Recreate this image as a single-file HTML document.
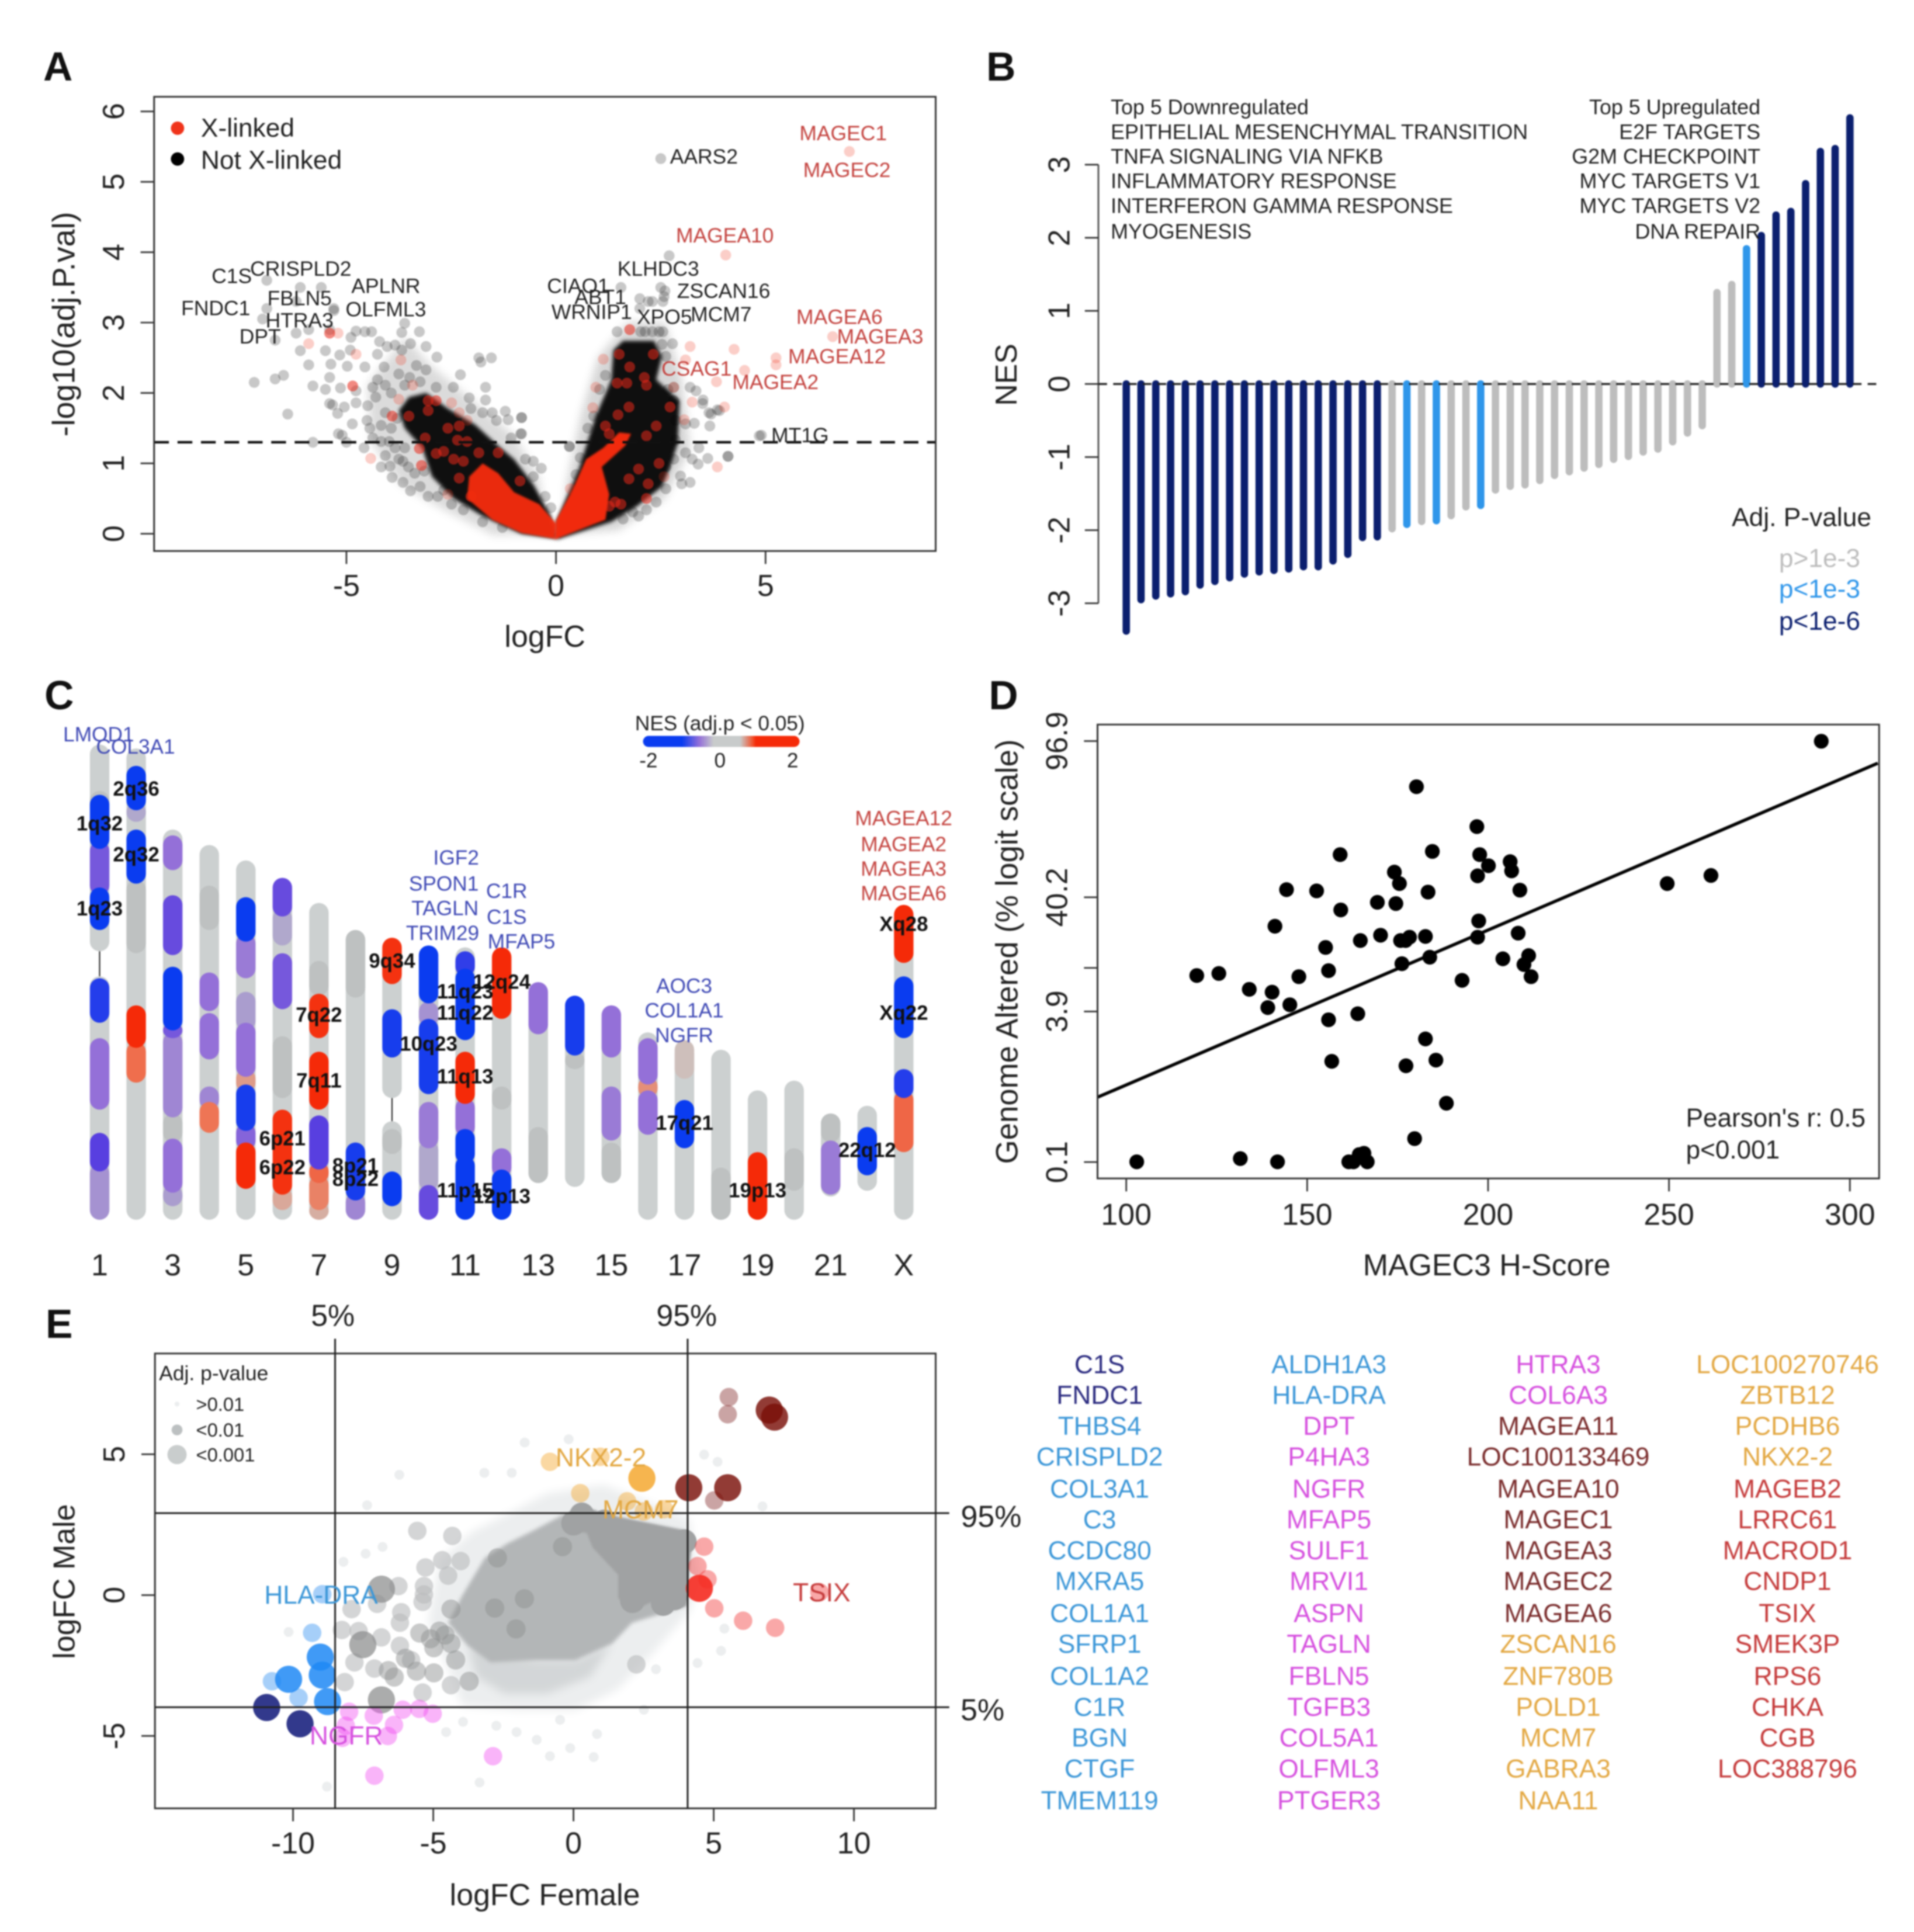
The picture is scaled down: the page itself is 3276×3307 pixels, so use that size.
<!DOCTYPE html>
<html lang="en">
<head>
<meta charset="utf-8">
<title>Multi-panel expression analysis figure</title>
<style>
html,body{margin:0;padding:0;background:#fff;width:3276px;height:3307px;overflow:hidden}
#figure{display:block;width:3276px;height:3307px;filter:blur(1.4px)}
text{font-family:"Liberation Sans",Arial,sans-serif;dominant-baseline:central;fill:#222}
.m{text-anchor:middle}.e{text-anchor:end}
.ax{font-size:24.6px}.gA{font-size:16.8px}.red{fill:#c4433f}
.b17{font-size:17px}.b21{font-size:21px}
.band{font-size:16.5px;font-weight:bold;text-anchor:middle;fill:#111}
.gC{font-size:16.7px;text-anchor:middle;fill:#3f49b5}.rC{font-size:16.7px;text-anchor:middle;fill:#c4433f}
.letter{font-size:33px;font-weight:bold;text-anchor:middle;fill:#111}
.gl{font-size:21px;text-anchor:middle}
.nv{fill:#2b2b80}.bl{fill:#3c97d8}.mg{fill:#d650df}.mr{fill:#7a2c2c}.or{fill:#e3a843}.rd{fill:#c53b3b}
</style>
</head>
<body>
<svg id="figure" xmlns="http://www.w3.org/2000/svg" viewBox="0 0 1552.6 1567.3">
<defs>
<filter id="soft05" x="-20%" y="-20%" width="140%" height="140%"><feGaussianBlur stdDeviation="0.8"/></filter>
<filter id="soft1" x="-20%" y="-20%" width="140%" height="140%"><feGaussianBlur stdDeviation="1.5"/></filter>
<filter id="soft3" x="-20%" y="-20%" width="140%" height="140%"><feGaussianBlur stdDeviation="3.5"/></filter>
<linearGradient id="nesGradient"><stop offset="0" stop-color="#0a3cf0"/><stop offset=".25" stop-color="#0a3cf0"/><stop offset=".36" stop-color="#9470d8"/><stop offset=".45" stop-color="#c8cbcb"/><stop offset=".62" stop-color="#c8cbcb"/><stop offset=".7" stop-color="#f0532e"/><stop offset=".72" stop-color="#f52a08"/><stop offset="1" stop-color="#f52a08"/></linearGradient>
</defs>
<rect x="0" y="0" width="1552.6" height="1567.3" fill="#fff"/>
<g id="panelA"></g>
<g id="panelB"></g>
<g id="panelC"></g>
<g id="panelD"></g>
<g id="panelE"></g>

<text class="letter" x="47" y="54">A</text>
<text class="letter" x="812" y="54">B</text>
<text class="letter" x="48" y="564">C</text>
<text class="letter" x="814" y="564">D</text>
<text class="letter" x="48" y="1074">E</text>

<!-- Panel A text -->
<g>
<text class="ax m" x="442" y="516">logFC</text>
<text class="ax m" transform="rotate(-90 52 263)" x="52" y="263" style="font-size:25.5px">-log10(adj.P.val)</text>
<circle cx="144" cy="104" r="5.4" fill="#f0331a"/>
<circle cx="144" cy="129" r="5.4" fill="#000"/>
<text x="163" y="104" style="font-size:21px">X-linked</text>
<text x="163" y="130" style="font-size:21px">Not X-linked</text>
<text class="gA red m" x="684" y="108">MAGEC1</text>
<text class="gA red m" x="687" y="138">MAGEC2</text>
<text class="gA m" x="571" y="127">AARS2</text>
<text class="gA red m" x="588" y="191">MAGEA10</text>
<text class="gA m" x="534" y="218">KLHDC3</text>
<text class="gA m" x="587" y="236">ZSCAN16</text>
<text class="gA m" x="469" y="232">CIAO1</text>
<text class="gA m" x="487" y="241">ABT1</text>
<text class="gA m" x="480" y="253">WRNIP1</text>
<text class="gA m" x="539" y="257">XPO5</text>
<text class="gA m" x="585" y="255">MCM7</text>
<text class="gA red m" x="681" y="257">MAGEA6</text>
<text class="gA red m" x="714" y="273">MAGEA3</text>
<text class="gA red m" x="679" y="289">MAGEA12</text>
<text class="gA red m" x="565" y="299">CSAG1</text>
<text class="gA red m" x="629" y="310">MAGEA2</text>
<text class="gA m" x="649" y="353">MT1G</text>
<text class="gA m" x="188" y="224">C1S</text>
<text class="gA m" x="244" y="218">CRISPLD2</text>
<text class="gA m" x="313" y="232">APLNR</text>
<text class="gA m" x="243" y="242">FBLN5</text>
<text class="gA m" x="175" y="250">FNDC1</text>
<text class="gA m" x="313" y="251">OLFML3</text>
<text class="gA m" x="243" y="260">HTRA3</text>
<text class="gA m" x="211" y="273">DPT</text>
</g>

<!-- Panel B text -->
<g>
<text class="ax m" transform="rotate(-90 816 304)" x="816" y="304">NES</text>
<text class="b17" x="901" y="87">Top 5 Downregulated</text>
<text class="b17" x="901" y="107">EPITHELIAL MESENCHYMAL TRANSITION</text>
<text class="b17" x="901" y="127">TNFA SIGNALING VIA NFKB</text>
<text class="b17" x="901" y="147">INFLAMMATORY RESPONSE</text>
<text class="b17" x="901" y="167">INTERFERON GAMMA RESPONSE</text>
<text class="b17" x="901" y="188">MYOGENESIS</text>
<text class="b17 e" x="1428" y="87">Top 5 Upregulated</text>
<text class="b17 e" x="1428" y="107">E2F TARGETS</text>
<text class="b17 e" x="1428" y="127">G2M CHECKPOINT</text>
<text class="b17 e" x="1428" y="147">MYC TARGETS V1</text>
<text class="b17 e" x="1428" y="167">MYC TARGETS V2</text>
<text class="b17 e" x="1428" y="188">DNA REPAIR</text>
<text class="b21 e" x="1518" y="420">Adj. P-value</text>
<text class="b21 e" x="1509" y="453" style="fill:#bdbdbd">p&gt;1e-3</text>
<text class="b21 e" x="1509" y="478" style="fill:#2f96ea">p&lt;1e-3</text>
<text class="b21 e" x="1509" y="504" style="fill:#0b1f6f">p&lt;1e-6</text>
</g>

<!-- Panel C text -->
<g id="panelCText">
<text class="gC" x="80" y="596">LMOD1</text>
<text class="gC" x="110" y="606">COL3A1</text>
<text class="gC" x="370" y="696">IGF2</text>
<text class="gC" x="360" y="717">SPON1</text>
<text class="gC" x="361" y="737">TAGLN</text>
<text class="gC" x="359" y="757">TRIM29</text>
<text class="gC" x="411" y="723">C1R</text>
<text class="gC" x="411" y="744">C1S</text>
<text class="gC" x="423" y="764">MFAP5</text>
<text class="gC" x="555" y="800">AOC3</text>
<text class="gC" x="555" y="820">COL1A1</text>
<text class="gC" x="555" y="840">NGFR</text>
<text class="rC" x="733" y="664">MAGEA12</text>
<text class="rC" x="733" y="685">MAGEA2</text>
<text class="rC" x="733" y="705">MAGEA3</text>
<text class="rC" x="733" y="725">MAGEA6</text>
<text class="gC" x="584" y="587" style="fill:#222">NES (adj.p &lt; 0.05)</text>
<rect x="521.6" y="597" width="127" height="9" rx="4.5" fill="url(#nesGradient)"/>
<text class="gC" x="526" y="617" style="fill:#222">-2</text>
<text class="gC" x="584" y="617" style="fill:#222">0</text>
<text class="gC" x="643" y="617" style="fill:#222">2</text>
</g>

<!-- Panel D text -->
<g>
<text class="ax m" x="1206" y="1026">MAGEC3 H-Score</text>
<text class="m" transform="rotate(-90 817 772)" x="817" y="772" style="font-size:25px">Genome Altered (% logit scale)</text>
<text x="1367.6" y="907" style="font-size:20.9px">Pearson's r: 0.5</text>
<text x="1367.6" y="933" style="font-size:20.9px">p&lt;0.001</text>
</g>

<!-- Panel E text and gene lists -->
<g id="panelEText">
<text class="ax m" x="442" y="1537">logFC Female</text>
<text class="ax m" transform="rotate(-90 52 1283)" x="52" y="1283">logFC Male</text>
<text class="ax m" x="270" y="1067">5%</text>
<text class="ax m" x="557" y="1067">95%</text>
<text class="ax m" x="804" y="1230">95%</text>
<text class="ax m" x="797" y="1387">5%</text>
<text x="129" y="1114" style="font-size:16.8px">Adj. p-value</text>
<text x="159" y="1139" style="font-size:15.5px">&gt;0.01</text>
<text x="159" y="1160" style="font-size:15.5px">&lt;0.01</text>
<text x="159" y="1180" style="font-size:15.5px">&lt;0.001</text>
<circle cx="143.6" cy="1139" r="2" fill="#eceeef"/>
<circle cx="143.6" cy="1160" r="4.4" fill="#bcc0c1"/>
<circle cx="143.6" cy="1180" r="7.8" fill="#c9cdcd"/>
</g>
<g id="geneLists">
<text class="gl nv" x="892" y="1107">C1S</text>
<text class="gl nv" x="892" y="1132">FNDC1</text>
<text class="gl bl" x="892" y="1157">THBS4</text>
<text class="gl bl" x="892" y="1182">CRISPLD2</text>
<text class="gl bl" x="892" y="1208">COL3A1</text>
<text class="gl bl" x="892" y="1233">C3</text>
<text class="gl bl" x="892" y="1258">CCDC80</text>
<text class="gl bl" x="892" y="1283">MXRA5</text>
<text class="gl bl" x="892" y="1309">COL1A1</text>
<text class="gl bl" x="892" y="1334">SFRP1</text>
<text class="gl bl" x="892" y="1360">COL1A2</text>
<text class="gl bl" x="892" y="1385">C1R</text>
<text class="gl bl" x="892" y="1410">BGN</text>
<text class="gl bl" x="892" y="1435">CTGF</text>
<text class="gl bl" x="892" y="1461">TMEM119</text>
<text class="gl bl" x="1078" y="1107">ALDH1A3</text>
<text class="gl bl" x="1078" y="1132">HLA-DRA</text>
<text class="gl mg" x="1078" y="1157">DPT</text>
<text class="gl mg" x="1078" y="1182">P4HA3</text>
<text class="gl mg" x="1078" y="1208">NGFR</text>
<text class="gl mg" x="1078" y="1233">MFAP5</text>
<text class="gl mg" x="1078" y="1258">SULF1</text>
<text class="gl mg" x="1078" y="1283">MRVI1</text>
<text class="gl mg" x="1078" y="1309">ASPN</text>
<text class="gl mg" x="1078" y="1334">TAGLN</text>
<text class="gl mg" x="1078" y="1360">FBLN5</text>
<text class="gl mg" x="1078" y="1385">TGFB3</text>
<text class="gl mg" x="1078" y="1410">COL5A1</text>
<text class="gl mg" x="1078" y="1435">OLFML3</text>
<text class="gl mg" x="1078" y="1461">PTGER3</text>
<text class="gl mg" x="1264" y="1107">HTRA3</text>
<text class="gl mg" x="1264" y="1132">COL6A3</text>
<text class="gl mr" x="1264" y="1157">MAGEA11</text>
<text class="gl mr" x="1264" y="1182">LOC100133469</text>
<text class="gl mr" x="1264" y="1208">MAGEA10</text>
<text class="gl mr" x="1264" y="1233">MAGEC1</text>
<text class="gl mr" x="1264" y="1258">MAGEA3</text>
<text class="gl mr" x="1264" y="1283">MAGEC2</text>
<text class="gl mr" x="1264" y="1309">MAGEA6</text>
<text class="gl or" x="1264" y="1334">ZSCAN16</text>
<text class="gl or" x="1264" y="1360">ZNF780B</text>
<text class="gl or" x="1264" y="1385">POLD1</text>
<text class="gl or" x="1264" y="1410">MCM7</text>
<text class="gl or" x="1264" y="1435">GABRA3</text>
<text class="gl or" x="1264" y="1461">NAA11</text>
<text class="gl or" x="1450" y="1107">LOC100270746</text>
<text class="gl or" x="1450" y="1132">ZBTB12</text>
<text class="gl or" x="1450" y="1157">PCDHB6</text>
<text class="gl or" x="1450" y="1182">NKX2-2</text>
<text class="gl rd" x="1450" y="1208">MAGEB2</text>
<text class="gl rd" x="1450" y="1233">LRRC61</text>
<text class="gl rd" x="1450" y="1258">MACROD1</text>
<text class="gl rd" x="1450" y="1283">CNDP1</text>
<text class="gl rd" x="1450" y="1309">TSIX</text>
<text class="gl rd" x="1450" y="1334">SMEK3P</text>
<text class="gl rd" x="1450" y="1360">RPS6</text>
<text class="gl rd" x="1450" y="1385">CHKA</text>
<text class="gl rd" x="1450" y="1410">CGB</text>
<text class="gl rd" x="1450" y="1435">LOC388796</text>
</g>
</svg>

<script>
/* ===== Panel A data: [logFC, -log10(adj.P)] ===== */
const volcanoOtherLeft=[[-7.2,2.15],[-6.9,3.6],[-6.9,3.2],[-7,3.05],[-6.7,2.75],[-6.5,2.25],[-6.7,2.2],[-6.4,1.7],[-6.1,3.5],[-6.2,3.3],[-5.6,3.5],[-5.3,3.2],[-5.4,2.9],[-5.9,2.9],[-6.2,2.85],[-6.1,2.6],[-5.9,2.4],[-5.5,2.6],[-5.8,2.1],[-5.5,2.05],[-5.4,1.85],[-5.8,1.3],[-5.1,1.4],[-5,1.3],
[-3.61,2.99],[-3.26,2.87],[-3.68,2.86],[-4.77,2.88],[-4.56,2.87],[-4.4,2.87],[-5.3,3.17],[-4.89,2.79],[-4.21,2.73],[-4.03,2.66],[-3.84,2.68],[-3.47,2.7],[-3.1,2.66],[-2.84,2.51],[-4.91,2.61],[-5.16,2.54],[-4.26,2.55],[-3.68,2.61],[-5.37,2.41],[-4.98,2.38],[-4.56,2.37],[-4.1,2.37],[-3.33,2.39],[-3.1,2.33],[-5.4,2.22],[-2.28,2.26],[-4.26,2.19],[-3.49,2.22],[-4.37,2.08],[-5.14,2.07],[-4.77,2.03],[-1.68,2.08],[-2.86,2.08],[-2.45,2.08],[-2.07,1.93],[-1.68,1.9],[-4.49,1.82],[-5.05,1.8],[-5.33,1.83],[-5.21,1.71],[-1.84,2.5],[-1.54,2.5],[-1.79,2.44],[-4.51,1.61],[-4.86,1.56],[-4.17,1.54],[-3.79,1.64],[-1.52,1.72],[-1.21,1.74],[-1.14,1.62],[-.82,1.65],[-5.19,1.42],[-4.37,1.36],[-3.98,1.31],[-.84,1.42],[-1.07,1.36],[-4.58,1.22],[-3.61,1.22],[-4.07,1.11],[.32,1.24],[-4.17,.95],[-3.96,.96],[-3.75,1.06],[-3.91,.8],[-3.65,.73],[-3.47,.61],[-3.24,.67],[-3.05,.53],[-2.82,.53],[-.26,.53],[-.35,.93],[-.54,1.03],[-.73,1.06],[-.12,.37],[-.54,.81],[-2.03,1.78],[-1.75,1.72],[-1.42,1.61],[-4.07,1.72],[-4.44,1.5],[-3.93,1.5],[-3.84,1.22],[-3.65,1.03],[-3.37,.86],[-3.52,.95],[-3.14,.89],[-4.17,1.31],[-2.68,.62],[-2.49,.42],[-2.21,.34],[-1.75,.17],[-1.28,.09],[-3.93,2.0],[-3.61,2.11],[-3.24,2.16],[-4.07,2.11],[-3.75,2.27],[-4.3,1.94],[-4.77,1.86]];
const volcanoOtherRight=[[2.5,5.33],[2.7,3.95],[1.55,3.5],[2.5,3.5],[2.6,3.45],[2.55,3.3],[2,3.2],[2.2,3.3],[3.5,1.85],[3.7,1.7],[3.9,1.75],[4.9,1.4],[4.1,1.1],
[1.46,2.87],[2.02,2.87],[2.13,2.87],[2.3,2.87],[2.46,2.87],[2.55,2.87],[2,3.34],[2.3,3.3],[2.58,3.37],[2.53,2.69],[2.78,2.7],[2.62,2.52],[3.2,2.08],[3.34,2.03],[3.51,1.9],[3.65,1.72],[3.85,1.76],[2.81,2.08],[3.3,1.57],[3.67,1.53],[3.09,1.56],[4.85,1.39],[-.82,1.65],[-.82,1.42],[.76,1.5],[.32,1.24],[3.09,1.15],[3.41,1.22],[3.62,1.07],[4.11,1.1],[3.39,.99],[3.25,1.06],[2.97,.82],[3,.71],[3.2,.73],[2.62,.64],[1.97,.25],[1.6,.21],[2.62,.95],[2.81,1.06],[2.85,1.33],[2.85,1.61],[2.81,1.89],[2.67,2.05],[1.18,2.25],[1.04,2.05],[.9,1.67],[.58,1.08],[.48,.84],[2.39,.45],[2.16,.34],[1.83,.31]];
const volcanoXLinkedPale=[[7,5.43],[4.05,3.96],[6.6,2.8],[5.25,2.5],[5.25,2.4],[4.5,2.32],[4.25,2.62],[3.2,2.66],[3.09,2.47],[3.83,2.16],[4.02,1.8],[3.85,.95],[2.58,.81],[-5.2,2.85],[-5.9,2.7],[-4.77,2.55],[-3.7,2.47],[-3.42,2.11],[-3.75,1.91],[-2.49,1.86],[-2.31,1.72],[-2.12,1.61],[-4.42,1.07],[-2.58,.56],[1.13,2.48],[.95,2.08],[.88,1.79],[3.25,1.87],[3.06,1.62],[.34,.64],[2.81,2.08]];
const volcanoXLinkedCore=[[-3.91,1.67],[-3.51,1.67],[-3.05,1.89],[-2.86,1.89],[-3.05,1.75],[-2.58,1.5],[-2.31,1.53],[-3.12,1.36],[-3.26,1.21],[-2.86,1.14],[-2.68,1.17],[-2.44,1.06],[-2.21,1.03],[-2.35,1.33],[-2.12,1.31],[-1.84,1.15],[-1.38,1.15],[-3.21,.97],[-2.31,.79],[-2.03,.53],[-.86,.75],[-4.85,2.1],[-5.4,2.85],
[1.51,2.55],[1.76,2.37],[2.32,2.55],[1.76,2.9],[1.46,2.14],[1.69,2.14],[2.11,2.22],[2.16,2.11],[1.48,1.69],[1.74,1.8],[1.18,1.53],[1.27,1.42],[2.72,1.8],[2.39,1.53],[2.16,1.39],[2.46,1],[1.97,.92],[2.2,.71],[1.74,.78],[2.16,.5],[1.41,.45],[1.27,.39],[1.55,.42]];
const densityHaloLeft=[[-.2,0],[-1.5,-.02],[-2.7,.35],[-3.7,.7],[-4.4,1.3],[-4.5,2.1],[-3.6,2.8],[-3,2.4],[-2,1.9],[-1,1.4],[-.4,.8]];
const densityHaloRight=[[.2,0],[1.5,.05],[2.6,.5],[3.2,1.2],[3.0,2.2],[2.6,3],[1.7,3],[1,2.5],[.6,1.7],[.25,.7]];
const densityCoreLeft=[[-3.51,1.94],[-3.1,2],[-2.58,1.78],[-1.93,1.55],[-1.38,1.25],[-1,1.06],[-.54,.7],[-.12,.25],[.01,-.07],[-.82,0],[-1.75,.25],[-2.44,.5],[-2.96,.81],[-3.19,1.22],[-3.61,1.5],[-3.75,1.75]];
const densityCoreRight=[[1.6,2.74],[2.34,2.74],[2.53,2.52],[2.39,2.19],[2.95,1.89],[2.9,1.28],[2.72,.95],[2.53,.67],[1.93,.39],[1.32,.17],[.02,-.08],[0,.17],[.53,.89],[.95,1.67],[1.32,2.19],[1.37,2.61]];
const densityRedLeft=[[-.03,-.07],[-.82,.01],[-1.52,.2],[-2.12,.5],[-2.07,.81],[-1.75,1],[-1.38,.86],[-1,.59],[-.4,.42],[.01,.14]];
const densityRedRight=[[-.03,-.08],[1.18,.2],[1.27,.56],[1.09,.95],[1.65,1.25],[1.79,1.42],[1.51,1.44],[1.13,1.22],[.72,1.06],[.39,.62],[0,.19]];
const aXTicks=[-5,0,5];
const aYTicks=[0,1,2,3,4,5,6];
const aSignificance=1.3;

/* ===== Panel B data: NES per hallmark gene set, and significance class ===== */
const nesValues=[-3.38,-2.95,-2.9,-2.87,-2.84,-2.75,-2.7,-2.65,-2.6,-2.57,-2.55,-2.53,-2.5,-2.5,-2.42,-2.33,-2.1,-2.09,-1.98,-1.92,-1.88,-1.87,-1.8,-1.68,-1.66,-1.45,-1.4,-1.38,-1.32,-1.25,-1.2,-1.15,-1.1,-1.03,-.99,-.93,-.89,-.79,-.67,-.57,1.25,1.36,1.85,2.03,2.31,2.36,2.74,3.18,3.22,3.64];
const nesClasses=[2,2,2,2,2,2,2,2,2,2,2,2,2,2,2,2,2,2,0,1,0,1,0,0,1,0,0,0,0,0,0,0,0,0,0,0,0,0,0,0,0,0,1,2,2,2,2,2,2,2];
const bYTicks=[-3,-2,-1,0,1,2,3];

/* ===== Panel C data: chromosome arms and NES-coloured bands, position in Mb from the baseline ===== */
const chromosomeArms=[[[0,126],[139,246]],[[0,244]],[[0,202]],[[0,194]],[[0,186]],[[0,175]],[[0,164]],[[0,150]],[[0,51],[63,144]],[[0,140]],[[0,141]],[[0,139]],[[19,121]],[[17,114]],[[19,109]],[[0,97]],[[0,91]],[[0,88]],[[0,67]],[[0,72]],[[12,55]],[[15,59]],[[0,161]]];
const neutralBands=[[2,138,176],[3,40,55],[4,150,173],[6,63,95],[7,116,134],[8,115,150],[9,34,47],[12,57,69],[13,19,48],[14,78,87],[15,19,40],[18,0,27],[20,15,37],[21,40,55],[1,208,222],[3,8,16]];
const nesBands=[[1,194,218,-2],[1,170,194,-1.2],[1,152,170,-2],[1,104,123,-1.8],[1,59,92,-1],[1,27,43,-1.4],[1,0,27,-.7],
[2,214,233,-2],[2,176,200,-2],[2,208,214,-.5],[2,91,109,2],[2,73,90,1.1],
[3,183,197,-1],[3,139,166,-1.3],[3,100,129,-2],[3,96,100,-1.2],[3,55,95,-.8],[3,16,40,-1],[3,9,16,-.6],
[4,110,126,-1],[4,85,105,-1],[4,59,67,-.8],[4,47,59,1],
[5,146,165,-2],[5,127,146,-.9],[5,100,116,-.6],[5,76,100,-1],[5,68,76,.7],[5,48,68,-1.9],[5,38,48,-1.1],[5,18,38,2],
[6,159,175,-1.3],[6,144,159,-.5],[6,111,136,-1.2],[6,15,55,1.9],[6,7,15,.6],
[7,96,115,1.9],[7,59,85,2],[7,28,52,-1.4],[7,21,28,1.2],[7,7,21,.9],[7,0,7,.5],
[8,12,38,-1.9],[8,0,12,-.8],
[9,124,144,1.9],[9,86,107,-1.9],[9,9,23,-2],
[10,114,140,-2],[10,102,111,-.7],[10,67,102,-1.9],[10,39,59,-.9],[10,17,39,-.5],[10,0,16,-1.3],
[11,128,137,-1.7],[11,95,128,-2],[11,62,85,2],[11,45,61,-1],[11,31,45,-2],[11,0,31,-2],
[12,106,139,2],[12,24,35,-1],[12,0,24,-2],
[13,98,121,-1],[14,87,114,-1.9],[15,86,109,-1],[15,43,67,-.9],
[16,72,92,-1],[16,65,72,.8],[16,46,65,-1],
[17,75,91,.2],[17,39,60,-2],[19,0,33,2],[21,15,39,-.9],[22,25,46,-2],
[23,135,161,2],[23,96,124,-2],[23,65,76,-1.8],[23,37,65,1.2]];
const bandLabels=["2q36","1q32","2q32","1q23","9q34","12q24","11q23","7q22","11q22","Xq22","Xq28","10q23","7q11","11q13","17q21","6p21","6p22","22q12","8p21","8p22","11p15","12p13","19p13"];
const bandLabelChromosome=[2,1,2,1,9,12,11,7,11,23,23,10,7,11,17,6,6,22,8,8,11,12,19];
const bandLabelPosition=[223,205,189,161,134,123,118,106,107,107,153,91,72,74,50,42,27,36,28,21,15,12,15];
const chromosomeTickLabels=["1","3","5","7","9","11","13","15","17","19","21","X"];
const chromosomeTickIndex=[1,3,5,7,9,11,13,15,17,19,21,23];

/* ===== Panel D data ===== */
const hScore=[102.9,131.5,141.8,161.5,162.8,164.4,165.7,166.6,179.7,188.5,156.8,177.3,185.6,182.7,155.9,164,139.1,145.2,140.3,134,119.5,125.6,147.7,155.9,155.1,141.1,159.3,144.3,152.6,159.1,164.7,170.3,169.4,174.5,174.1,175.5,176.2,175.8,177.2,178.3,182.7,183.4,184.6,183.9,192.8,196.9,197.7,200.1,197.1,197.4,197.1,204.1,206.1,206.5,208.8,208.3,211.2,209.9,211.9,249.5,261.6,292.1,180.2];
const genomeAlteredLogit=[-6.9,-6.82,-6.9,-6.9,-6.9,-6.72,-6.69,-6.9,-6.33,-5.46,-4.43,-4.54,-4.4,-3.88,-3.41,-3.26,-3.11,-3.04,-2.73,-2.66,-2.32,-2.27,-2.35,-2.2,-1.63,-1.11,-.71,-.21,-.24,.65,-1.46,-1.33,-.52,-.55,.22,-.06,-2.03,-1.46,-1.46,-1.38,-1.36,-.27,.73,-1.87,-2.44,1.34,.65,.38,.13,-.98,-1.38,-1.91,.48,.25,-.22,-1.28,-1.83,-2.05,-2.35,-.06,.14,3.44,2.32];
const dXTicks=[100,150,200,250,300];
const dYTicksPercent=[0.1,3.9,10.6,40.2,96.9];
const dYTickLabels=["0.1","3.9","","40.2","96.9"];
const fitSlope=.03808;
const fitAt100=-5.01;

/* ===== Panel E data: [logFC female, logFC male] ===== */
const cloudHalo=[[-5.18,-.98],[-4.78,1.24],[-3.57,2.28],[-2.35,2.87],[-.94,3.61],[1.08,3.91],[2.6,3.32],[4.11,2.72],[4.51,.5],[4.11,-.61],[2.8,-2.09],[1.58,-3.35],[.07,-4.09],[-1.95,-4.09],[-3.97,-3.94],[-4.37,-2.83]];
const cloudLowerBand=[[-3.77,-1.8],[-1.34,-2.31],[.07,-2.31],[1.38,-1.72],[.58,-2.91],[-.94,-3.5],[-2.45,-3.5],[-3.46,-2.91]];
const cloudCore=[[-4.47,-.98],[-3.97,-.02],[-3.16,1.32],[-2.35,1.84],[-1.45,2.28],[-.33,2.87],[1.08,2.87],[4.01,2.28],[4.01,-.39],[2.09,-.98],[1.38,-1.72],[.07,-2.31],[-1.34,-2.31],[-2.96,-2.39],[-3.77,-1.8]];
const cloudDense=[[-.33,2.72],[.07,3.17],[.78,3.02],[1.08,2.87],[4.01,2.28],[4.21,1.69],[4.01,-.39],[3.4,-.54],[2.8,-.24],[1.99,-.61],[1.59,-.09],[1.59,.72],[.68,1.69],[.47,2.21],[-.33,2.28]];
const faintPoints=[[-.17,5.53],[-1.74,5.42],[-3.18,4.34],[-2.2,4.34],[-6.21,4.27],[-7.36,3.19],[-7.41,1.47],[-8.2,1.18],[-6.81,1.71],[-10.16,-1.31],[4.66,4.99],[5.14,4.73],[6.74,3.15],[5.38,-1.19],[5.26,-1.98],[2.94,-2.63],[.84,-4.93],[-.84,-5.72],[.72,-5.75],[-3.35,-6.65],[-8.79,-6.8],[-.12,-5.43],[-1.31,-5.14],[-3.94,-4.5],[-4.54,-4.86],[-2.03,-4.86],[-2.75,-4.64],[-.48,-4.43],[2.51,-4.07],[4.42,-2.41]];
const grayLight=[[-5.57,2.28],[-4.32,2.1],[-5.28,.98],[-4.68,1.24],[-4.02,1.21],[-4.47,.69],[-5.33,.32],[-5.33,.02],[-5.38,-.24],[-6.14,-.61],[-6.19,-.98],[-8.26,-1.24],[-7.66,-1.28],[-6.85,-1.5],[-7.81,-2.39],[-8.16,-3.09],[-5.38,-3.46],[-4.37,-3.2],[2.24,-2.46],[-6.24,.32],[-7,-.31],[-7.91,-.5],[-5.79,-2.31],[-6.19,-1.8],[-7.1,-2.61]];
const grayMid=[[-2.71,1.32],[-.39,1.72],[-1.75,-.13],[-2.81,-.46],[-2.05,-1.2],[-4.37,-.5],[-4.98,-2.76],[-3.72,-3.06],[-5.99,-2.24],[-5.48,-1.35],[-4.78,-1.28],[-4.37,-1.72],[-4.98,-1.87],[-4.58,-1.42],[-6.6,-2.68],[-6.39,-2.91],[-4.2,-2.3],[-5.1,-1.55],[-5.6,-2.7]];
const grayBig=[[-6.85,.21],[-7.51,-1.76],[-6.85,-3.72]];
const grayDense=[[.3,2.85],[0,2.55],[3.6,-.1],[2.1,-.2],[3.95,1.9],[3.2,-.3],[1.1,2.6],[2.2,.5]];
const navyBig=[[-10.94,-3.99],[-9.75,-4.57]];
const blueBig=[[-9.03,-2.2],[-8.96,-2.84],[-10.16,-2.99],[-8.77,-3.78]];
const blueMid=[[-9.32,-1.34],[-10.75,-3.06],[-8.96,.03],[-9.8,-3.64]];
const magentaMid=[[-8,-4.14],[-8.12,-4.64],[-8.24,-5.07],[-7.12,-4.28],[-6.09,-4.07],[-5.5,-4.04],[-5.02,-4.21],[-6.4,-4.61],[-6.62,-5],[-2.87,-5.72],[-7.1,-6.41]];
const orangeBig=[[2.44,4.15]];
const orangeMid=[[-.84,4.73],[.24,3.62],[.96,4.91],[1.91,3.33],[2.51,2.97],[3.23,3.05]];
const maroonBig=[[4.11,3.81],[5.5,3.81],[6.98,6.57],[7.17,6.32]];
const maroonMid=[[5.54,7.03],[5.5,6.42],[5.02,3.36]];
const redBig=[[4.49,.24]];
const redMid=[[4.66,1.72],[4.42,1.03],[4.78,.56],[5.02,-.47],[6.05,-.91],[7.19,-1.16],[8.77,.1]];
const eXTicks=[-10,-5,0,5,10];
const eYTicks=[-5,0,5];
const eVerticalCuts=[-8.5,4.07];
const eHorizontalCuts=[2.91,-3.98];
const eGeneLabels=["NKX2-2","MCM7","HLA-DRA","TSIX","NGFR"];
const eGeneLabelFemale=[.98,2.39,-9,8.85,-8.1];
const eGeneLabelMale=[4.87,3.02,0,.08,-5.0];
const eGeneLabelColors=["#e3a843","#e3a843","#3c97d8","#c53b3b","#d650df"];

/* ===== Helpers and axis functions ===== */
const NS='http://www.w3.org/2000/svg';
function svgEl(tag,attrs,parent){
  const n=document.createElementNS(NS,tag);
  for(const k in attrs){n.setAttribute(k,attrs[k]);}
  parent.appendChild(n);
  return n;
}
const panelA=document.getElementById('panelA');
const panelB=document.getElementById('panelB');
const panelC=document.getElementById('panelC');
const panelD=document.getElementById('panelD');
const panelE=document.getElementById('panelE');

const xA=v=>451+34*v;
const yA=v=>433-57.1*v;
const yB=v=>311.5-59.3*v;
const xB=i=>913.6+11.98*i;
const xC=c=>80.8+29.65*(c-1);
const yC=p=>989.5-1.567*p;
const xD=v=>913.6+2.935*(v-100);
const yD=l=>942.5-33*(l+6.9);
const xE=v=>465.2+22.75*v;
const yE=v=>1294-22.85*v;
const logit=p=>Math.log(p/(100-p));

function polyPoints(list,fx,fy){return list.map(p=>fx(p[0]).toFixed(1)+','+fy(p[1]).toFixed(1)).join(' ');}

function frame(parent,x,y,w,h){
  const r=svgEl('rect',{x:x,y:y,width:w,height:h,fill:'none',stroke:'#333','stroke-width':1.4},parent);
  
  
}
function tickX(parent,px,yTop,label,labelY){
  const t=svgEl('line',{x1:px,x2:px,y1:yTop,y2:yTop+10.5,stroke:'#333','stroke-width':1.3},parent);
  
  
  const s=svgEl('text',{x:px,y:labelY,class:'ax m'},parent);
  
  
  s.textContent=label;
}
function tickY(parent,py,xRight,label,labelX){
  const t=svgEl('line',{x1:xRight-11,x2:xRight,y1:py,y2:py,stroke:'#333','stroke-width':1.3},parent);
  
  
  if(label===''){return;}
  const s=svgEl('text',{x:labelX,y:py,class:'ax m',transform:'rotate(-90 '+labelX+' '+py+')'},parent);
  
  
  s.textContent=label;
}
function dots(parent,list,fx,fy,r,fill,op,name){
  list.forEach(function(p){
    const c=svgEl('circle',{cx:fx(p[0]).toFixed(1),cy:fy(p[1]).toFixed(1),r:r,fill:fill,'fill-opacity':op},parent);
    
    
  });
}
function blob(parent,list,fx,fy,fill,op,filter,name){
  const b=svgEl('polygon',{points:polyPoints(list,fx,fy),fill:fill,'fill-opacity':op,filter:filter},parent);
  
  
}

/* ===== Panel A ===== */
blob(panelA,densityHaloLeft,xA,yA,'#000',.14,'url(#soft3)','density-halo-left');
blob(panelA,densityHaloRight,xA,yA,'#000',.16,'url(#soft3)','density-halo-right');
dots(panelA,volcanoOtherLeft,xA,yA,4.4,'#1a1a1a',.24,'volcano-point-not-x-linked');
dots(panelA,volcanoOtherRight,xA,yA,4.4,'#1a1a1a',.24,'volcano-point-not-x-linked');
blob(panelA,densityCoreLeft,xA,yA,'#050505',.93,'url(#soft1)','density-core-left');
blob(panelA,densityCoreRight,xA,yA,'#050505',.93,'url(#soft1)','density-core-right');
dots(panelA,volcanoXLinkedPale,xA,yA,4.4,'#f0331a',.24,'volcano-point-x-linked');
dots(panelA,volcanoXLinkedCore,xA,yA,4.4,'#e8281a',.55,'volcano-point-x-linked');
blob(panelA,densityRedLeft,xA,yA,'#f22c0a',.97,'url(#soft05)','density-red-left');
blob(panelA,densityRedRight,xA,yA,'#f42c08',.99,'url(#soft05)','density-red-right');
const sigLine=svgEl('line',{x1:125,x2:759,y1:yA(aSignificance),y2:yA(aSignificance),stroke:'#111','stroke-width':2,'stroke-dasharray':'12 7'},panelA);


frame(panelA,125,78.5,634,368.5);
aXTicks.forEach(v=>tickX(panelA,xA(v),447,String(v),475));
aYTicks.forEach(v=>tickY(panelA,yA(v),125,String(v),92));

/* ===== Panel B ===== */
const barColors=['#bdbdbd','#2f96ea','#0b1f6f'];
const bAxis=svgEl('line',{x1:891,x2:891,y1:yB(3),y2:yB(-3),stroke:'#555','stroke-width':1.4},panelB);


bYTicks.forEach(v=>tickY(panelB,yB(v),891,String(v),859));
nesValues.forEach(function(v,i){
  const b=svgEl('line',{x1:xB(i),x2:xB(i),y1:yB(0),y2:yB(v),stroke:barColors[nesClasses[i]],'stroke-width':6,'stroke-linecap':'round'},panelB);
  
  
});
const zeroLine=svgEl('line',{x1:891,x2:1522,y1:yB(0),y2:yB(0),stroke:'#222','stroke-width':1.6,'stroke-dasharray':'7 5'},panelB);



/* ===== Panel C ===== */
const nesStops=[[-2,[10,60,240]],[-1.4,[88,63,224]],[-1,[148,112,216]],[-.5,[176,168,204]],[0,[200,203,203]],[.6,[217,168,154]],[1,[238,117,85]],[2,[245,42,8]]];
function nesColor(v){
  for(let i=1;i<nesStops.length;i++){
    if(v<=nesStops[i][0]){
      const a=nesStops[i-1],b=nesStops[i],t=(v-a[0])/(b[0]-a[0]);
      return 'rgb('+a[1].map((c,j)=>Math.round(c+(b[1][j]-c)*t)).join(',')+')';
    }
  }
  return 'rgb(245,42,8)';
}
function band(parent,chr,from,to,fill,name){
  const r=svgEl('rect',{x:xC(chr)-7.9,width:15.8,y:yC(to),height:yC(from)-yC(to),rx:7.9,ry:7.9,fill:fill},parent);
  
  
}
chromosomeArms.forEach(function(arms,i){
  const chr=i+1;
  if(arms.length>1){
    const l=svgEl('line',{x1:xC(chr),x2:xC(chr),y1:yC(arms[0][1]),y2:yC(arms[1][0]),stroke:'#222','stroke-width':1},panelC);
    
    
  }
  arms.forEach(a=>band(panelC,chr,a[0],a[1],'#ccd0d0','chromosome-arm'));
});
neutralBands.forEach(b=>band(panelC,b[0],b[1],b[2],'#bec1c1','neutral-band'));
nesBands.slice().sort((a,b)=>Math.abs(a[3])-Math.abs(b[3])).forEach(b=>band(panelC,b[0],Math.max(0,b[1]-2),b[2]+2,nesColor(b[3]),'nes-band'));
const cText=document.getElementById('panelCText');
bandLabels.forEach(function(t,i){
  const s=svgEl('text',{x:xC(bandLabelChromosome[i]),y:yC(bandLabelPosition[i]),class:'band'},cText);
  
  
  s.textContent=t;
});
chromosomeTickLabels.forEach(function(t,i){
  const s=svgEl('text',{x:xC(chromosomeTickIndex[i]),y:1026,class:'ax m'},panelC);
  
  
  s.textContent=t;
});

/* ===== Panel D ===== */
hScore.forEach(function(h,i){
  const c=svgEl('circle',{cx:xD(h).toFixed(1),cy:yD(genomeAlteredLogit[i]).toFixed(1),r:6,fill:'#000'},panelD);
  
  
});
const fitFrom=92.1,fitTo=307.7;
const fit=svgEl('line',{x1:xD(fitFrom),x2:xD(fitTo),y1:yD(fitAt100+fitSlope*(fitFrom-100)),y2:yD(fitAt100+fitSlope*(fitTo-100)),stroke:'#000','stroke-width':2.6},panelD);


frame(panelD,890.3,587.8,634,368.2);
dXTicks.forEach(v=>tickX(panelD,xD(v),956,String(v),985));
dYTicksPercent.forEach((p,i)=>tickY(panelD,yD(logit(p)),890.3,dYTickLabels[i],857));

/* ===== Panel E ===== */
blob(panelE,cloudHalo,xE,yE,'#e7eaeb',.8,'url(#soft3)','cloud-halo');
dots(panelE,faintPoints,xE,yE,4,'#d5dadb',.45,'faint-gene-point');
blob(panelE,cloudLowerBand,xE,yE,'#cfd2d3',.85,'url(#soft3)','cloud-lower-band');
dots(panelE,grayLight,xE,yE,7.5,'#b9bcbd',.62,'gene-point-gray');
blob(panelE,cloudCore,xE,yE,'#b3b6b7',1,'url(#soft1)','cloud-core');
blob(panelE,cloudDense,xE,yE,'#a0a2a3',1,'url(#soft05)','cloud-dense');
dots(panelE,grayDense,xE,yE,10,'#a0a2a3',1,'gene-point-dense');
dots(panelE,grayMid,xE,yE,7.8,'#8f9191',.48,'gene-point-gray');
dots(panelE,grayBig,xE,yE,11,'#8a8c8c',.72,'gene-point-gray');
dots(panelE,magentaMid,xE,yE,7.5,'#f04cf0',.42,'gene-point-magenta');
dots(panelE,blueMid,xE,yE,7.5,'#2a8cf0',.42,'gene-point-blue');
dots(panelE,blueBig,xE,yE,11,'#1e88f5',.85,'gene-point-blue');
dots(panelE,navyBig,xE,yE,11,'#1c2380',.9,'gene-point-navy');
dots(panelE,orangeMid,xE,yE,7.5,'#f5a830',.45,'gene-point-orange');
dots(panelE,orangeBig,xE,yE,11,'#f5a830',.85,'gene-point-orange');
dots(panelE,maroonMid,xE,yE,7.5,'#7a1c1c',.4,'gene-point-maroon');
dots(panelE,maroonBig,xE,yE,11,'#7a1008',.82,'gene-point-maroon');
dots(panelE,redMid,xE,yE,7.5,'#f03030',.42,'gene-point-red');
dots(panelE,redBig,xE,yE,11,'#f52a20',.9,'gene-point-red');
frame(panelE,125.7,1098,633.3,369);
eVerticalCuts.forEach(function(v){
  const l=svgEl('line',{x1:xE(v),x2:xE(v),y1:1086,y2:1467,stroke:'#222','stroke-width':1.4},panelE);
  
  
});
eHorizontalCuts.forEach(function(v){
  const l=svgEl('line',{x1:125.7,x2:770,y1:yE(v),y2:yE(v),stroke:'#222','stroke-width':1.4},panelE);
  
  
});
eXTicks.forEach(v=>tickX(panelE,xE(v),1467,String(v),1495));
eYTicks.forEach(v=>tickY(panelE,yE(v),125.7,String(v),92.5));
eGeneLabels.forEach(function(t,i){
  const s=svgEl('text',{x:xE(eGeneLabelFemale[i]),y:yE(eGeneLabelMale[i]),class:'m',style:'font-size:21px;fill:'+eGeneLabelColors[i]},panelE);
  
  
  s.textContent=t;
});
</script>
</body>
</html>
